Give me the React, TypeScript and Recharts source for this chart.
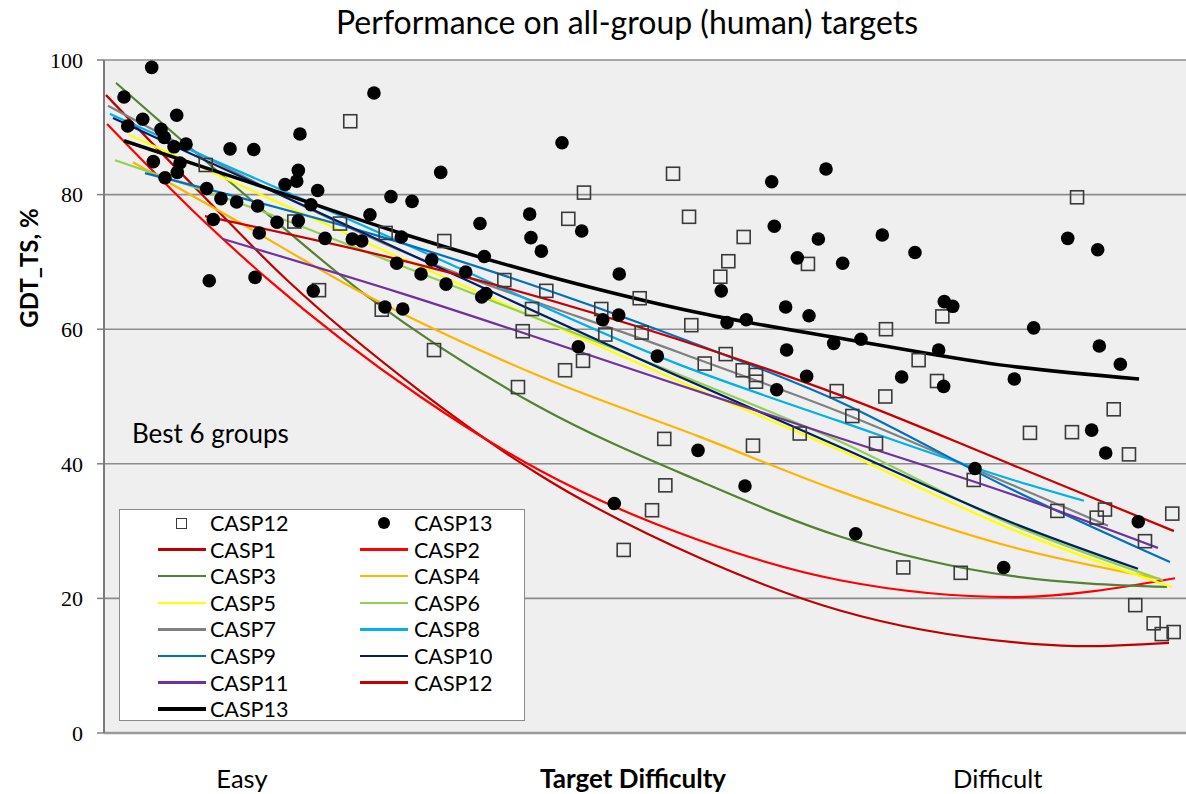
import React from 'react';
import { ComposedChart, Line, Scatter, XAxis, YAxis, CartesianGrid, Legend } from 'recharts';

// ---------- data ----------
const yTicks = [0, 20, 40, 60, 80, 100];
const xTickPositions = [12.75, 48.9, 82.6];
const xTickLabels = ['Easy', 'Target Difficulty', 'Difficult'];

const casp12Points: [number, number][] = [
  [22.76, 90.9], [9.4, 84.4], [17.59, 76.0], [21.81, 75.7], [26.03, 74.3], [19.87, 65.8], [25.67, 62.9],
  [31.45, 73.1], [37.0, 67.3], [40.88, 65.7], [39.56, 63.0], [38.7, 59.7], [30.5, 56.9], [44.36, 80.3],
  [42.91, 76.4], [52.59, 83.1], [54.07, 76.7], [45.96, 63.0], [46.33, 59.2], [49.51, 64.6], [49.69, 59.5],
  [54.28, 60.6], [44.27, 55.3], [42.61, 53.9], [59.12, 73.7], [57.7, 70.1], [56.96, 67.8], [65.06, 69.7],
  [57.46, 56.3], [55.52, 54.9], [59.03, 53.9], [60.26, 53.2], [60.26, 52.2], [67.72, 50.8], [72.21, 50.0],
  [72.27, 60.0], [77.48, 61.9], [75.29, 55.4], [76.99, 52.3], [89.93, 79.6], [93.32, 48.1], [85.58, 44.6],
  [89.46, 44.7], [69.16, 47.1], [71.35, 43.0], [94.73, 41.4], [80.38, 37.6], [88.11, 33.0], [92.51, 33.2],
  [91.75, 32.0], [98.73, 32.6], [96.21, 28.5], [73.87, 24.6], [79.18, 23.8], [95.31, 19.0], [97.01, 16.3],
  [97.76, 14.7], [98.86, 15.0], [51.78, 43.7], [59.98, 42.7], [51.88, 36.8], [50.65, 33.1], [48.03, 27.2],
  [64.3, 44.5], [38.26, 51.4],
];

const casp13Points: [number, number][] = [
  [1.85, 94.5], [4.41, 98.9], [3.58, 91.2], [6.72, 91.8], [2.19, 90.2], [5.27, 89.7], [5.57, 88.5],
  [6.47, 87.1], [7.58, 87.5], [4.56, 84.9], [5.64, 82.5], [6.77, 83.3], [7.02, 84.7], [11.65, 86.8],
  [13.84, 86.7], [18.11, 89.0], [17.96, 83.6], [16.73, 81.5], [17.81, 82.0], [19.75, 80.6], [24.95, 95.1],
  [26.52, 79.7], [9.49, 80.9], [10.81, 79.4], [12.26, 78.9], [14.2, 78.3], [10.1, 76.3], [15.99, 75.9],
  [17.96, 76.1], [19.13, 78.5], [14.35, 74.3], [20.43, 73.5], [22.95, 73.4], [23.82, 73.1], [24.58, 77.0],
  [27.05, 69.8], [9.73, 67.2], [13.96, 67.7], [19.34, 65.7], [28.47, 79.0], [31.12, 83.3], [42.33, 87.7],
  [34.75, 75.7], [39.34, 77.1], [39.46, 73.6], [40.42, 71.6], [44.15, 74.6], [35.15, 70.8], [27.48, 73.7],
  [30.29, 70.3], [29.3, 68.2], [31.61, 66.7], [33.43, 68.5], [34.91, 64.8], [35.3, 65.3], [47.62, 68.2],
  [47.57, 62.1], [46.09, 61.4], [43.84, 57.4], [51.14, 56.0], [25.97, 63.3], [27.61, 63.0], [61.71, 81.9],
  [66.73, 83.8], [61.95, 75.3], [66.02, 73.4], [64.08, 70.6], [68.27, 69.8], [71.93, 74.0], [74.95, 71.4],
  [57.05, 65.7], [57.58, 61.0], [59.36, 61.4], [63.0, 63.3], [65.16, 62.0], [63.09, 56.9], [67.44, 57.9],
  [69.96, 58.5], [64.94, 53.0], [62.17, 51.0], [73.72, 52.9], [77.14, 56.9], [77.66, 64.1], [78.44, 63.4],
  [77.6, 51.5], [54.9, 42.0], [59.24, 36.7], [47.16, 34.1], [69.47, 29.6], [83.15, 24.6], [80.5, 39.3],
  [84.13, 52.6], [85.92, 60.2], [89.07, 73.5], [91.84, 71.8], [91.99, 57.5], [93.93, 54.8], [91.28, 45.0],
  [92.58, 41.6], [95.59, 31.4],
];

// fitted curves: [difficulty, GDT_TS]
const curveCASP1: [number, number][] = [[0.18, 94.8], [8.87, 80.3], [16.91, 67.3], [29.21, 50.8], [40.3, 38.3], [55.08, 26.0], [68.02, 18.2], [84.01, 13.5], [90.48, 12.9], [98.43, 13.4]];
const curveCASP2: [number, number][] = [[0.28, 90.5], [8.87, 76.6], [15.16, 67.4], [29.21, 50.0], [40.3, 39.0], [55.08, 28.6], [68.02, 22.7], [84.01, 20.2], [98.98, 23.0]];
const curveCASP3: [number, number][] = [[1.11, 96.6], [11.92, 81.5], [24.58, 64.6], [40.3, 48.4], [55.08, 37.4], [68.02, 29.2], [84.01, 23.3], [98.24, 21.7]];
const curveCASP4: [number, number][] = [[2.68, 84.8], [11.92, 76.4], [24.31, 65.0], [40.3, 53.0], [55.08, 44.0], [68.02, 35.9], [84.01, 27.6], [97.6, 22.9]];
const curveCASP5: [number, number][] = [[2.31, 88.9], [27.36, 70.6], [53.23, 52.2], [68.02, 42.0], [84.01, 30.2], [98.71, 21.7]];
const curveCASP6: [number, number][] = [[1.02, 85.1], [13.77, 78.0], [27.36, 69.5], [53.23, 53.2], [68.02, 43.3], [84.01, 30.9], [97.87, 22.7]];
const curveCASP7: [number, number][] = [[0.37, 93.2], [8.87, 86.0], [25.51, 73.0], [53.23, 56.5], [68.02, 47.7], [84.01, 36.8], [92.79, 30.8]];
const curveCASP8: [number, number][] = [[0.55, 92.0], [8.87, 86.0], [27.36, 73.0], [53.23, 54.7], [68.02, 46.3], [84.01, 37.6], [90.57, 34.5]];
const curveCASP9: [number, number][] = [[3.79, 83.2], [25.51, 73.8], [53.23, 58.7], [68.02, 49.2], [84.01, 36.1], [98.52, 25.4]];
const curveCASP10: [number, number][] = [[0.83, 91.4], [27.36, 71.8], [53.23, 52.9], [68.02, 42.5], [84.01, 31.2], [95.56, 24.4]];
const curveCASP11: [number, number][] = [[11.0, 73.4], [27.36, 65.4], [51.67, 52.5], [68.02, 43.8], [84.01, 35.4], [97.41, 27.5]];
const curveCASP12: [number, number][] = [[9.33, 76.8], [27.36, 70.3], [53.23, 58.4], [68.02, 50.2], [84.01, 39.8], [98.89, 30.0]];
const curveCASP13: [number, number][] = [[1.85, 88.0], [14.42, 81.3], [27.36, 74.3], [41.22, 67.8], [55.08, 62.4], [68.95, 58.4], [82.81, 54.7], [95.66, 52.6]];

const curveNames = ['CASP1', 'CASP2', 'CASP3', 'CASP4', 'CASP5', 'CASP6', 'CASP7', 'CASP8', 'CASP9', 'CASP10', 'CASP11', 'CASP12', 'CASP13'];
const curveColors = ['#c00000', '#ff0000', '#548235', '#ffb400', '#ffff00', '#92d050', '#808080', '#00b0f0', '#0070c0', '#002060', '#7030a0', '#c80000', '#000000'];
const curveData = [curveCASP1, curveCASP2, curveCASP3, curveCASP4, curveCASP5, curveCASP6, curveCASP7, curveCASP8, curveCASP9, curveCASP10, curveCASP11, curveCASP12, curveCASP13];

const toObjs = (arr: [number, number][]) => arr.map(([x, y]) => ({ x, y }));

const FONT = 'Lato, "Open Sans", sans-serif';
const LEG_FS = 21.5;

const SquareShape = (props: any) => {
  const { cx, cy } = props;
  if (cx == null || cy == null) return null;
  return <rect x={cx - 6.5} y={cy - 6.5} width={13} height={13} fill="none" stroke="#3a3a3a" strokeWidth={1.6} />;
};
const CircleShape = (props: any) => {
  const { cx, cy } = props;
  if (cx == null || cy == null) return null;
  return <circle cx={cx} cy={cy} r={6.8} fill="#000" />;
};

const XTick = (props: any) => {
  const { x, payload } = props;
  const idx = xTickPositions.indexOf(payload.value);
  const label = xTickLabels[idx] ?? '';
  return (
    <text x={x} y={788} textAnchor="middle" fontFamily={FONT} fontSize={idx === 1 ? 26 : 25.5} fontWeight={idx === 1 ? 700 : 400} fill="#000">
      {label}
    </text>
  );
};

const LegendBox = () => {
  const rowTop = 13;
  const rowStep = 26.6;
  const colLine = [38, 240];
  const colText = [90, 294];
  const textStyle = (left: number, cy: number): React.CSSProperties => ({
    position: 'absolute', left, top: cy - 14, lineHeight: '28px', fontSize: LEG_FS, fontFamily: FONT, color: '#000', whiteSpace: 'nowrap',
  });
  const items: React.ReactNode[] = [];
  items.push(
    <div key="m12" style={{ position: 'absolute', left: 56, top: rowTop - 5.5, width: 11, height: 11, boxSizing: 'border-box', border: '1.5px solid #3a3a3a' }} />,
    <div key="t12" style={textStyle(colText[0], rowTop)}>CASP12</div>,
    <div key="m13" style={{ position: 'absolute', left: 258, top: rowTop - 6, width: 12, height: 12, borderRadius: 6, background: '#000' }} />,
    <div key="t13" style={textStyle(colText[1], rowTop)}>CASP13</div>,
  );
  curveNames.forEach((name, i) => {
    const row = 1 + Math.floor(i / 2);
    const col = i % 2;
    const cy = rowTop + row * rowStep;
    const thick = name === 'CASP13' ? 4 : 2.5;
    items.push(
      <div key={'l' + name} style={{ position: 'absolute', left: colLine[col], top: cy - thick / 2, width: 48, height: thick, background: curveColors[i] }} />,
      <div key={'t' + name} style={textStyle(colText[col], cy)}>{name}</div>,
    );
  });
  return (
    <div style={{ position: 'relative', width: 406, height: 212, boxSizing: 'border-box', border: '1.5px solid #8a8a8a', background: '#fff' }}>
      {items}
    </div>
  );
};

export default function App() {
  return (
    <div style={{ position: 'absolute', left: 0, top: 0, width: 1186, height: 794, background: '#fff' }}>
      <ComposedChart width={1186} height={794} margin={{ top: 60, right: 0, left: 0, bottom: 0 }}>
        <CartesianGrid vertical={false} stroke="#8c8c8c" strokeWidth={1.6} fill="#efefef" />
        <XAxis
          dataKey="x"
          type="number"
          domain={[0, 100]}
          ticks={xTickPositions}
          tick={<XTick />}
          tickLine={false}
          height={61}
          axisLine={{ stroke: '#9a9a9a', strokeWidth: 2.5 }}
          allowDataOverflow
        />
        <YAxis
          dataKey="y"
          type="number"
          domain={[0, 100]}
          ticks={yTicks}
          width={104}
          tickSize={7}
          tickMargin={14}
          tickLine={{ stroke: '#808080', strokeWidth: 1.5 }}
          axisLine={{ stroke: '#7a7a7a', strokeWidth: 2 }}
          tick={{ fontFamily: '"Liberation Serif", serif', fontSize: 22, fill: '#000' }}
          allowDataOverflow
        />
        <Legend
          verticalAlign="middle"
          align="center"
          layout="horizontal"
          wrapperStyle={{ left: 119, top: 509, width: 406, height: 212 }}
          content={() => <LegendBox />}
        />
        <Scatter name="CASP12" data={toObjs(casp12Points)} dataKey="y" shape={SquareShape} isAnimationActive={false} />
        <Scatter name="CASP13" data={toObjs(casp13Points)} dataKey="y" shape={CircleShape} isAnimationActive={false} />
        {curveNames.map((name, i) => (
          <Line
            key={name}
            name={name}
            data={toObjs(curveData[i])}
            dataKey="y"
            type="monotone"
            stroke={curveColors[i]}
            strokeWidth={name === 'CASP13' ? 3.5 : 2.2}
            dot={false}
            activeDot={false}
            isAnimationActive={false}
          />
        ))}
      </ComposedChart>
      <svg width={1186} height={794} style={{ position: 'absolute', left: 0, top: 0, pointerEvents: 'none' }}>
        <text x={627} y={34} textAnchor="middle" fontFamily={FONT} fontSize={32} fill="#000">Performance on all-group (human) targets</text>
        <text x={132} y={443} fontFamily={FONT} fontSize={26} fill="#000">Best 6 groups</text>
        <text x={0} y={0} transform="translate(38,268) rotate(-90)" textAnchor="middle" fontFamily={FONT} fontSize={24} fontWeight={700} fill="#000">GDT_TS, %</text>
      </svg>
    </div>
  );
}
